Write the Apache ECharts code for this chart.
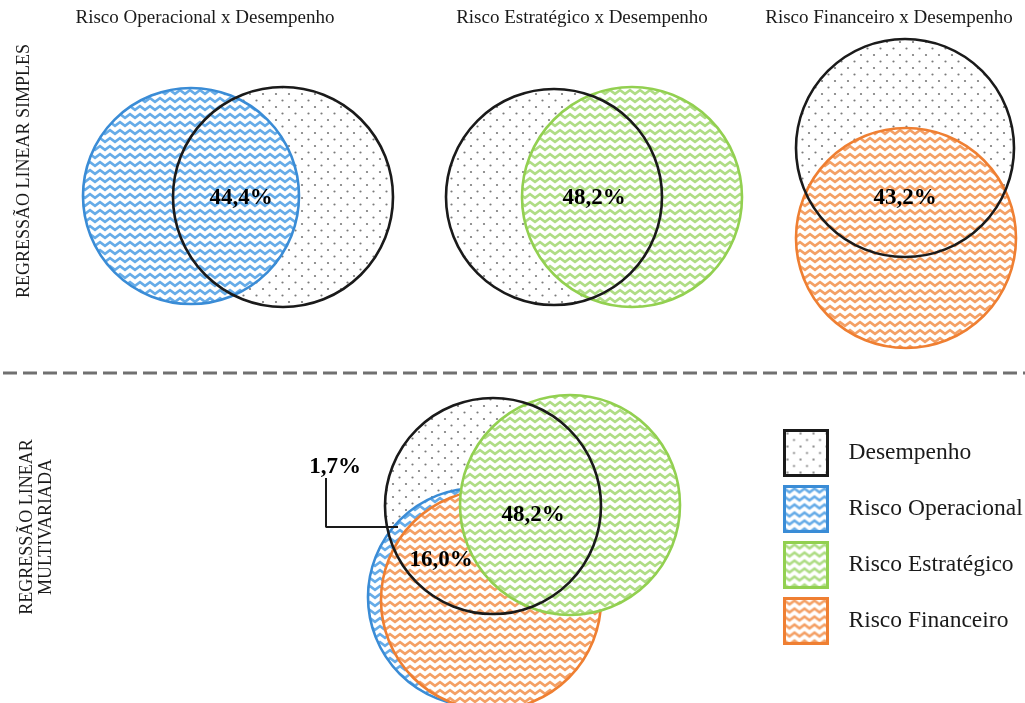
<!DOCTYPE html>
<html><head><meta charset="utf-8">
<script src="https://cdn.jsdelivr.net/npm/echarts@6/dist/echarts.min.js"></script>
<style>html,body{margin:0;padding:0;background:#fff}#c{width:1025px;height:703px}</style>
</head><body><div id="c"></div>
<script>
// ---- data ----
const panelTitles = ['Risco Operacional x Desempenho', 'Risco Estratégico x Desempenho', 'Risco Financeiro x Desempenho'];
const rowTitles = ['REGRESSÃO LINEAR SIMPLES', 'REGRESSÃO LINEAR\nMULTIVARIADA'];
const setNames = ['Desempenho', 'Risco Operacional', 'Risco Estratégico', 'Risco Financeiro'];
// circles: [centre x, centre y, radius] in chart units
const desempenho = [[283, 197, 110], [554, 197, 108], [905, 148, 109], [493, 506, 108]];
const operacional = [[191, 196, 108], [477, 597, 109]];
const estrategico = [[632, 197, 110], [570, 505, 110]];
const financeiro = [[906, 238, 110], [491, 600, 110]];
const shareLabels = [[241, 198, '44,4%'], [594, 198, '48,2%'], [905, 198, '43,2%'], [533, 515, '48,2%'], [441, 560, '16,0%'], [335, 467, '1,7%']];
const calloutPath = [[326, 478], [326, 527], [398, 527]];

// ---- styles ----
const SERIF = '"Liberation Serif", "DejaVu Serif", serif';
function zigzag(color) {
  const w = 10, h = 8;
  const c = document.createElement('canvas'); c.width = w; c.height = h;
  const g = c.getContext('2d');
  g.fillStyle = '#fff'; g.fillRect(0, 0, w, h);
  g.strokeStyle = color; g.lineWidth = 2.6; g.lineJoin = 'miter';
  for (const oy of [-h, 0, h]) {
    g.beginPath(); g.moveTo(-5, 5.8 + oy); g.lineTo(0, 2.2 + oy); g.lineTo(5, 5.8 + oy); g.lineTo(10, 2.2 + oy); g.lineTo(15, 5.8 + oy); g.stroke();
  }
  return { image: c, repeat: 'repeat' };
}
function dots() {
  const c = document.createElement('canvas'); c.width = 13; c.height = 13;
  const g = c.getContext('2d');
  g.fillStyle = '#fff'; g.fillRect(0, 0, 13, 13);
  g.fillStyle = '#7a7a7a';
  g.beginPath(); g.arc(3, 3, 1.1, 0, Math.PI * 2); g.fill();
  g.beginPath(); g.arc(9.5, 9.5, 1.1, 0, Math.PI * 2); g.fill();
  return { image: c, repeat: 'repeat' };
}
const strokes = ['#1a1a1a', '#3a8cd6', '#92d050', '#ef7f32'];
const pats = [dots(), zigzag('#66ace8'), zigzag('#afdd85'), zigzag('#f4a065')];

function circleSeries(name, data, idx, fillZ, strokeZ) {
  return {
    type: 'custom', name, data, silent: true, coordinateSystem: 'cartesian2d',
    encode: { x: 0, y: 1 },
    renderItem(params, api) {
      const c = api.coord([api.value(0), api.value(1)]);
      const r = api.size([api.value(2), 0])[0];
      return {
        type: 'group', children: [
          { type: 'circle', shape: { cx: c[0], cy: c[1], r }, style: { fill: pats[idx], stroke: null }, z2: fillZ },
          { type: 'circle', shape: { cx: c[0], cy: c[1], r }, style: { fill: 'none', stroke: strokes[idx], lineWidth: 2.6 }, z2: strokeZ }
        ]
      };
    }
  };
}

const chart = echarts.init(document.getElementById('c'), null, { renderer: 'canvas' });
const titleX = [205, 582, 889];
chart.setOption({
  backgroundColor: '#fff',
  animation: false,
  grid: { left: 0, right: 0, top: 0, bottom: 0 },
  xAxis: { type: 'value', min: 0, max: 1025, show: false },
  yAxis: { type: 'value', min: 0, max: 703, inverse: true, show: false },
  legend: {
    orient: 'vertical', left: 783, top: 429, padding: 0, itemWidth: 43, itemHeight: 45, itemGap: 8,
    selectedMode: false,
    textStyle: { fontFamily: SERIF, fontSize: 23.5, color: '#1a1a1a', padding: [0, 0, 0, 16] },
    data: setNames.map((n, i) => ({ name: n, icon: 'rect', itemStyle: { color: pats[i], borderColor: strokes[i], borderWidth: 3 } }))
  },
  graphic: [
    ...panelTitles.map((t, i) => ({ type: 'text', x: titleX[i], y: 18, style: { text: t, fontFamily: SERIF, fontSize: 19, fill: '#1a1a1a', textAlign: 'center', textVerticalAlign: 'middle' } })),
    { type: 'text', x: 24, y: 171, rotation: Math.PI / 2, style: { text: rowTitles[0], fontFamily: SERIF, fontSize: 18, fill: '#1a1a1a', textAlign: 'center', textVerticalAlign: 'middle' } },
    { type: 'text', x: 37, y: 527, rotation: Math.PI / 2, style: { text: rowTitles[1], fontFamily: SERIF, fontSize: 18, lineHeight: 19, fill: '#1a1a1a', textAlign: 'center', textVerticalAlign: 'middle' } },
    { type: 'line', shape: { x1: 3, y1: 373, x2: 1025, y2: 373 }, style: { stroke: '#707070', lineWidth: 3, lineDash: [14, 6] } }
  ],
  series: [
    circleSeries(setNames[0], desempenho, 0, 0, 20),
    circleSeries(setNames[1], operacional, 1, 1, 2),
    circleSeries(setNames[3], financeiro, 3, 3, 4),
    circleSeries(setNames[2], estrategico, 2, 5, 6),
    { type: 'line', data: calloutPath, silent: true, showSymbol: false, z: 5, lineStyle: { color: '#1a1a1a', width: 2 } },
    {
      type: 'custom', data: shareLabels, silent: true, z: 6, coordinateSystem: 'cartesian2d',
      encode: { x: 0, y: 1 },
      renderItem(params, api) {
        const c = api.coord([api.value(0), api.value(1)]);
        return {
          type: 'text', x: c[0], y: c[1], z2: 50,
          style: { text: shareLabels[params.dataIndex][2], fontFamily: SERIF, fontWeight: 'bold', fontSize: 23, fill: '#000', textAlign: 'center', textVerticalAlign: 'middle' }
        };
      }
    }
  ]
});
</script></body></html>
